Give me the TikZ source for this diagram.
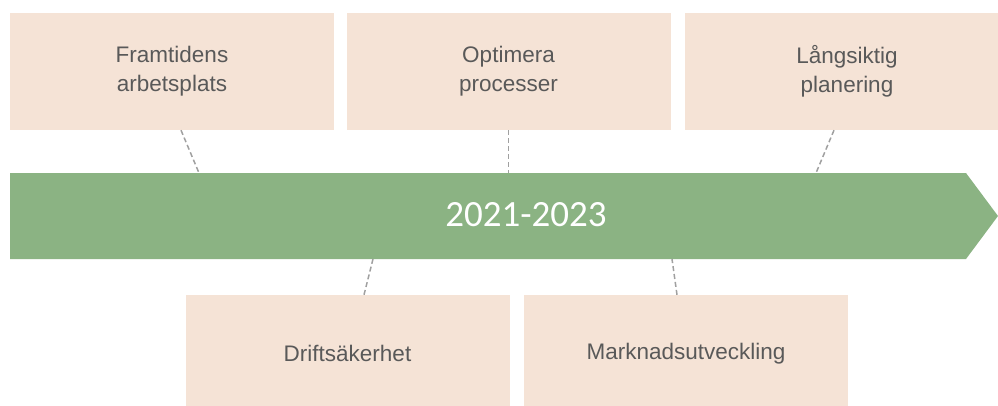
\documentclass[tikz,border=0pt]{standalone}
\usepackage{fontspec}
\setmainfont{Liberation Sans}
\newfontfamily\yearfont{Carlito}
\definecolor{peach}{HTML}{F5E3D6}
\definecolor{leaf}{HTML}{8BB383}
\definecolor{ink}{HTML}{595959}
\definecolor{dashgray}{HTML}{A0A0A0}
\tikzset{
  goalbox/.style={fill=peach,minimum width=324pt,minimum height=117pt,
    inner sep=0pt,align=center,text=ink,font=\fontsize{22.5}{29}\selectfont},
  link/.style={draw=dashgray,line width=1.5pt,dash pattern=on 5pt off 3pt}
}
\begin{document}
\begin{tikzpicture}[x=1pt,y=-1pt]
      \useasboundingbox (0,0) rectangle (998,405);
      \fill[leaf] (10,173) -- (966,173) -- (998,216) -- (966,259) -- (10,259) -- cycle;
      \node[text=white,font=\yearfont\fontsize{37}{42}\selectfont] (year) at (526,215) {2021-2023};
      \coordinate (top) at (0,173);
      \coordinate (bottom) at (0,259);
      \node[goalbox] (0) at (172,71.5) {Framtidens\\arbetsplats};
      \node[goalbox] (1) at (508.5,71.5) {Optimera\\processer};
      \node[goalbox] (2) at (847,71.5) {Långsiktig\\planering};
      \node[goalbox] (3) at (347.5,353.5) {Driftsäkerhet};
      \node[goalbox] (4) at (686,353.5) {Marknadsutveckling};
      \begin{scope}[link]
        \draw ([xshift=9pt]0.south) -- ([xshift=27pt]0.south |- top);
        \draw (1.south) -- (1.south |- top);
        \draw ([xshift=-13pt]2.south) -- ([xshift=-31pt]2.south |- top);
        \draw ([xshift=16.5pt]3.north) -- ([xshift=25.5pt]3.north |- bottom);
        \draw ([xshift=-9pt]4.north) -- ([xshift=-14pt]4.north |- bottom);
      \end{scope}
    \end{tikzpicture}
\end{document}
